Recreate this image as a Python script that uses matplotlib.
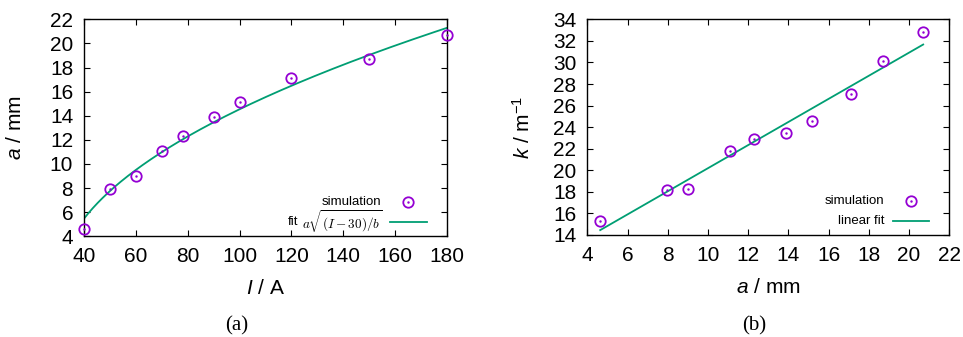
import numpy as np
import matplotlib
matplotlib.use("Agg")
import matplotlib.pyplot as plt

plt.rcParams['font.family'] = ['Liberation Sans', 'DejaVu Sans']
plt.rcParams['mathtext.fontset'] = 'custom'
plt.rcParams['mathtext.rm'] = 'Liberation Sans'
plt.rcParams['mathtext.it'] = 'Liberation Sans:italic'

# simulation results
current = [40, 50, 60, 70, 78, 90, 100, 120, 150, 180]          # I / A
radius = [4.64, 7.95, 9.0, 11.08, 12.29, 13.9, 15.17, 17.1, 18.71, 20.7]  # a / mm
curv = [15.3, 18.17, 18.3, 21.79, 22.93, 23.43, 24.57, 27.08, 30.14, 32.83]  # k / m^-1

# fit parameters
sqrt_coef = 1.7375   # a / sqrt(b)
lin_slope = 1.0716
lin_icpt = 9.48

purple = '#9400d3'
green = '#009e73'
fs_tick = 15
fs_leg = 9.5

fig = plt.figure(figsize=(9.63, 3.37), dpi=100)
ax1 = fig.add_axes([0.0875, 0.2988, 0.3763, 0.644])
ax2 = fig.add_axes([0.6099, 0.3027, 0.3759, 0.640])


def style(ax):
    ax.tick_params(direction='in', top=True, right=True, length=4, width=0.8,
                   labelsize=fs_tick, pad=8)
    for s in ax.spines.values():
        s.set_linewidth(1.0)


def points(ax, x, y):
    ax.plot(x, y, ls='none', marker='o', ms=7.5, mfc='none', mec=purple, mew=1.3, clip_on=False, zorder=3)
    ax.plot(x, y, ls='none', marker='.', ms=1.5, color=purple, clip_on=False, zorder=3)


def legend(ax, label2, math=False):
    t = ax.transAxes
    ax.text(0.82, 0.158, 'simulation', transform=t, ha='right', va='center', fontsize=fs_leg)
    ax.plot([0.894], [0.158], transform=t, ls='none', marker='o', ms=7.5, mfc='none', mec=purple, mew=1.3)
    ax.plot([0.894], [0.158], transform=t, ls='none', marker='.', ms=1.5, color=purple)
    ax.plot([0.844, 0.945], [0.066, 0.066], transform=t, color=green, lw=1.3)
    if math:
        ax.text(0.823, 0.066, r'$a\sqrt{(I-30)/b}$', transform=t, ha='right', va='center',
                fontsize=fs_leg, math_fontfamily='cm')
        ax.text(0.59, 0.066, 'fit', transform=t, ha='right', va='center', fontsize=fs_leg)
    else:
        ax.text(0.82, 0.066, label2, transform=t, ha='right', va='center', fontsize=fs_leg)


# (a) radius vs current
I_fit = np.linspace(40, 180, 300)
ax1.plot(I_fit, sqrt_coef * np.sqrt(I_fit - 30), color=green, lw=1.3)
points(ax1, current, radius)
ax1.set_xlim(40, 180)
ax1.set_ylim(4, 22)
ax1.set_xticks(np.arange(40, 181, 20))
ax1.set_yticks(np.arange(4, 23, 2))
style(ax1)
ax1.set_xlabel('$I$ / A', fontsize=fs_tick, labelpad=9)
ax1.set_ylabel('$a$ / mm', fontsize=fs_tick, labelpad=18)
legend(ax1, None, math=True)
fig.text(0.246, 0.02, '(a)', family='Liberation Serif', fontsize=15, ha='center')

# (b) curvature vs radius
a_fit = np.linspace(min(radius), max(radius), 50)
ax2.plot(a_fit, lin_slope * a_fit + lin_icpt, color=green, lw=1.3)
points(ax2, radius, curv)
ax2.set_xlim(4, 22)
ax2.set_ylim(14, 34)
ax2.set_xticks(np.arange(4, 23, 2))
ax2.set_yticks(np.arange(14, 35, 2))
style(ax2)
ax2.set_xlabel('$a$ / mm', fontsize=fs_tick, labelpad=9)
ax2.set_ylabel('$k$ / m$^{-1}$', fontsize=fs_tick, labelpad=14)
legend(ax2, 'linear fit')
fig.text(0.783, 0.02, '(b)', family='Liberation Serif', fontsize=15, ha='center')

fig.savefig('out.png', dpi=100)
